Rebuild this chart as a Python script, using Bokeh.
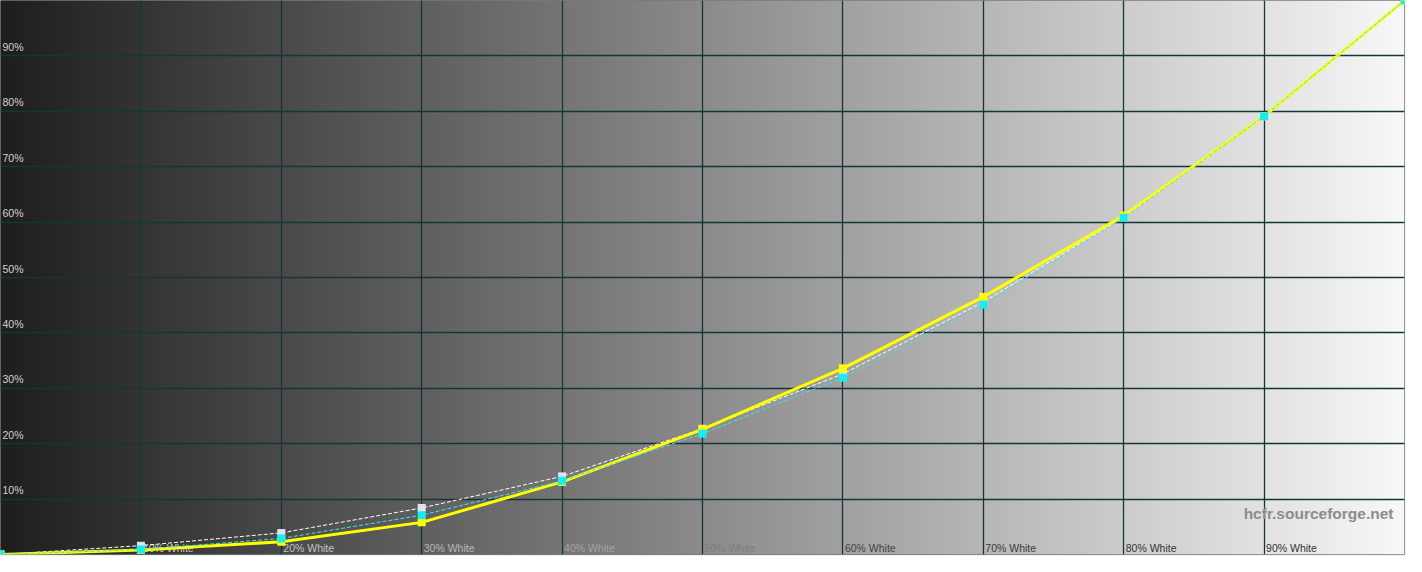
import numpy as np
from bokeh.plotting import figure
from bokeh.models import Range1d, FixedTicker
from bokeh.core.properties import value
from bokeh.embed import file_html
from bokeh.resources import INLINE

# ---- data ----
levels = [0, 10, 20, 30, 40, 50, 60, 70, 80, 90, 100]
measured = [0, 0.8, 2.3, 5.8, 13.1, 22.6, 33.6, 46.5, 61.2, 79.1, 100]      # yellow
reference = [0, 0.9, 2.9, 7.1, 13.3, 21.8, 31.9, 45.1, 60.8, 79.1, 100]    # cyan
reference2 = [0, 1.6, 3.9, 8.4, 14.1, 22.7, 32.6, 45.6, 60.9, 79.1, 100]   # white dashed
y_ticks = [10, 20, 30, 40, 50, 60, 70, 80, 90]
y_labels = ["10%", "20%", "30%", "40%", "50%", "60%", "70%", "80%", "90%"]
x_ticks = [10, 20, 30, 40, 50, 60, 70, 80, 90]
x_labels = ["10% White", "20% White", "30% White", "40% White", "50% White",
            "60% White", "70% White", "80% White", "90% White"]
x_label_colors = ["#c4c4c4", "#c4c4c4", "#b8b8b8", "#a4a4a4", "#7e7e7e",
                  "#444444", "#3a3a3a", "#333333", "#333333"]

W, H = 1406, 556
p = figure(width=W, height=H, output_backend="svg", toolbar_location=None,
           x_range=Range1d(0, 100), y_range=Range1d(0, 100),
           min_border_left=0, min_border_right=2, min_border_top=0, min_border_bottom=2)
p.xaxis.visible = False
p.yaxis.visible = False
p.border_fill_color = "#f0f0f0"
p.outline_line_color = "#7a7a7a"
p.outline_line_width = 1

# background horizontal gradient
n = 600
g = np.linspace(30, 248, n).astype(np.uint32)
img = np.empty((1, n), dtype=np.uint32)
view = img.view(dtype=np.uint8).reshape((1, n, 4))
view[0, :, 0] = g
view[0, :, 1] = g
view[0, :, 2] = g
view[0, :, 3] = 255
p.image_rgba(image=[img], x=0, y=0, dw=100, dh=100, level="image")

# grid
p.xgrid.ticker = FixedTicker(ticks=x_ticks)
p.ygrid.ticker = FixedTicker(ticks=y_ticks)
p.grid.grid_line_color = "#143636"
p.grid.grid_line_width = 1.3
p.grid.grid_line_alpha = 1.0

font = value("Liberation Sans")

# y labels
p.text(x=[0] * len(y_ticks), y=y_ticks, text=y_labels, x_offset=2, y_offset=-3,
       text_baseline="bottom", text_align="left", text_font=font,
       text_font_size="10.5px", text_color="#d2d2d2")

# x labels
p.text(x=x_ticks, y=[0] * len(x_ticks), text=x_labels, x_offset=2, y_offset=-1,
       text_baseline="bottom", text_align="left", text_font=font,
       text_font_size="10.5px", text_color=x_label_colors)

# watermark
p.text(x=[100], y=[0], text=["hcfr.sourceforge.net"], x_offset=-11, y_offset=-41,
       text_baseline="alphabetic", text_align="right", text_font=font,
       text_font_style="bold", text_font_size="15.5px", text_color="#8c8c8c")

# series
p.line(levels, reference2, line_color="#ffffff", line_width=1, line_dash="4 2")
p.scatter(levels, reference2, marker="square", size=8, fill_color="#e2e2ea", line_color=None)
p.line(levels, measured, line_color="#ffff00", line_width=3)
p.scatter(levels, measured, marker="square", size=8, fill_color="#ffff00", line_color=None)
p.line(levels, reference, line_color="#3fe4e8", line_width=1, line_dash="4 2")
p.scatter(levels, reference, marker="square", size=8, fill_color="#12eef4", line_color=None)

open("out.html", "w").write(file_html(p, INLINE))
